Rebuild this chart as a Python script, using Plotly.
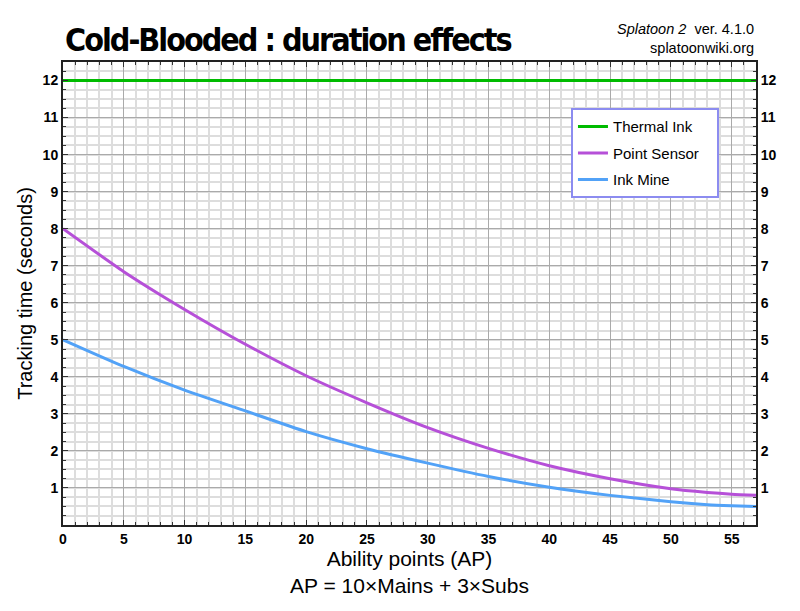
import plotly.graph_objects as go

# Data
ap = [0, 5, 10, 15, 20, 25, 30, 35, 40, 45, 50, 53, 55, 57]
thermal_ink = [12, 12, 12, 12, 12, 12, 12, 12, 12, 12, 12, 12, 12, 12]
point_sensor = [8.0, 6.84, 5.82, 4.88, 4.03, 3.30, 2.63, 2.07, 1.60, 1.25, 0.98, 0.88, 0.83, 0.80]
ink_mine = [5.0, 4.28, 3.64, 3.08, 2.52, 2.06, 1.67, 1.31, 1.02, 0.80, 0.63, 0.55, 0.52, 0.50]

series = [
    ("Thermal Ink", thermal_ink, "#00bb00"),
    ("Point Sensor", point_sensor, "#b650d8"),
    ("Ink Mine", ink_mine, "#52a2f7"),
]

FONT = "Liberation Sans, Arial, sans-serif"
PAD = "\u00a0\u00a0\u00a0"

fig = go.Figure()
for i, (name, vals, col) in enumerate(series):
    fig.add_trace(go.Scatter(
        x=ap, y=vals, name=name + PAD, mode="lines",
        line=dict(color=col, width=3, shape="spline", smoothing=0.6),
        legendgroup=f"g{i}", hoverinfo="skip",
    ))
# invisible trace for right axis
fig.add_trace(go.Scatter(x=[0], y=[0], yaxis="y2", mode="markers",
                         marker=dict(opacity=0), showlegend=False, hoverinfo="skip"))

tickfont = dict(family=FONT, size=14, color="black", weight="bold")
minor_common = dict(showgrid=True, gridcolor="#dddddd", gridwidth=1.5,
                    ticks="inside", ticklen=3, tickcolor="#333333", tickwidth=1)

title_html = ("<span style=\"font-family:'DejaVu Sans Condensed','DejaVu Sans';"
              "font-stretch:condensed;font-weight:bold;letter-spacing:-2px\">"
              "Cold-Blooded : duration effects</span>")

fig.update_layout(
    width=800, height=611,
    paper_bgcolor="white", plot_bgcolor="white",
    margin=dict(l=63, r=44, t=62, b=86),
    showlegend=True,
    legend=dict(
        x=0.733, y=0.90, xanchor="left", yanchor="top",
        bgcolor="white", bordercolor="#8c8cf0", borderwidth=2,
        font=dict(family=FONT, size=15, color="black"),
        tracegroupgap=4,
    ),
    xaxis=dict(
        range=[0, 57], dtick=5, tick0=0,
        showgrid=True, gridcolor="#aaaaaa", gridwidth=1.2,
        showline=True, linecolor="#222222", linewidth=2, mirror="ticks",
        ticks="inside", ticklen=5, tickcolor="#333333", tickwidth=1,
        tickfont=tickfont, zeroline=False,
        minor=dict(dtick=1, **minor_common),
        title=dict(text="Ability points (AP)<br>AP = 10×Mains + 3×Subs",
                   font=dict(family=FONT, size=21, color="black"), standoff=3),
    ),
    yaxis=dict(
        range=[0, 12.5], dtick=1, tick0=0,
        showgrid=True, gridcolor="#aaaaaa", gridwidth=1.2,
        showline=True, linecolor="#222222", linewidth=2,
        ticks="inside", ticklen=5, tickcolor="#333333", tickwidth=1,
        tickfont=tickfont, zeroline=False,
        minor=dict(dtick=0.25, **minor_common),
        tickvals=list(range(1, 13)),
        title=dict(text="Tracking time (seconds)",
                   font=dict(family=FONT, size=20, color="black"), standoff=5),
    ),
    yaxis2=dict(
        range=[0, 12.5], overlaying="y", side="right",
        showgrid=False, zeroline=False,
        showline=True, linecolor="#222222", linewidth=2,
        ticks="inside", ticklen=5, tickcolor="#333333", tickwidth=1,
        tickvals=list(range(1, 13)), tickfont=tickfont,
        minor=dict(dtick=0.25, ticks="inside", ticklen=3, tickcolor="#333333", showgrid=False),
    ),
    annotations=[
        dict(text=title_html, xref="paper", yref="paper",
             x=0.0, y=1.0, xanchor="left", yanchor="bottom", yshift=1, showarrow=False,
             font=dict(family="DejaVu Sans, sans-serif", size=32, color="black")),
        dict(text="<i>Splatoon 2</i>\u00a0 ver. 4.1.0<br>splatoonwiki.org", xref="paper", yref="paper",
             x=1.0, y=1.0, xanchor="right", yanchor="bottom", yshift=4, align="right",
             showarrow=False, font=dict(family=FONT, size=14.5, color="black")),
    ],
)

fig.write_html("out.html")
